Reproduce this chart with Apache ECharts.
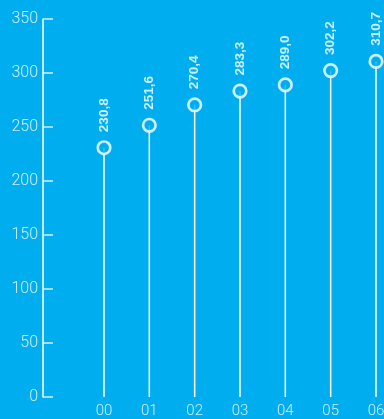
<!DOCTYPE html>
<html>
<head>
<meta charset="utf-8">
<script src="https://cdn.jsdelivr.net/npm/echarts@6/dist/echarts.min.js"></script>
<style>
  html, body { margin: 0; padding: 0; background: #00AEEF; }
  #chart { width: 384px; height: 419px; }
</style>
</head>
<body>
<div id="chart"></div>
<script>
// Yearly values, one lollipop per year
const categories = ['00', '01', '02', '03', '04', '05', '06'];
const values = [230.8, 251.6, 270.4, 283.3, 289.0, 302.2, 310.7];
const yTicks = { min: 0, max: 350, interval: 50 };

const bg = '#00AEEF';
const pale = 'rgba(255,255,255,0.8)';
const axisFont = 'Roboto, "Liberation Sans", Arial, sans-serif';
const valueFont = '"Liberation Sans", Arial, sans-serif';

const chart = echarts.init(document.getElementById('chart'), null, { renderer: 'canvas' });

chart.setOption({
  backgroundColor: bg,
  animation: false,
  grid: { left: 104, right: 8, top: 19, bottom: 22, outerBoundsMode: 'none', containLabel: false },
  xAxis: {
    type: 'category',
    data: categories,
    boundaryGap: false,
    axisLine: { show: false },
    axisTick: { show: false },
    axisLabel: { color: pale, fontSize: 15, fontWeight: 300, fontFamily: axisFont, margin: 7 },
    splitLine: { show: false }
  },
  yAxis: {
    type: 'value',
    min: yTicks.min,
    max: yTicks.max,
    interval: yTicks.interval,
    offset: 61,
    axisLine: { show: true, lineStyle: { color: '#ffffff', width: 1.5 } },
    axisTick: { show: true, inside: true, length: 10, lineStyle: { color: 'rgba(255,255,255,0.6)', width: 2 } },
    axisLabel: { color: pale, fontSize: 16, fontWeight: 300, fontFamily: axisFont, margin: 5 },
    splitLine: { show: false }
  },
  series: [
    {
      // stems
      type: 'bar',
      data: values,
      barWidth: 1.5,
      itemStyle: { color: '#ffffff' },
      silent: true
    },
    {
      // heads with value labels
      type: 'scatter',
      data: values,
      symbol: 'circle',
      symbolSize: 12.5,
      itemStyle: { color: bg, borderColor: '#ffffff', borderWidth: 2.7 },
      label: {
        show: true,
        position: 'top',
        rotate: 90,
        align: 'left',
        verticalAlign: 'middle',
        distance: 8,
        color: '#ffffff',
        fontSize: 13.5,
        fontWeight: 'bold',
        fontFamily: valueFont,
        formatter: p => p.value.toFixed(1).replace('.', ',')
      },
      z: 3
    }
  ]
});
</script>
</body>
</html>
